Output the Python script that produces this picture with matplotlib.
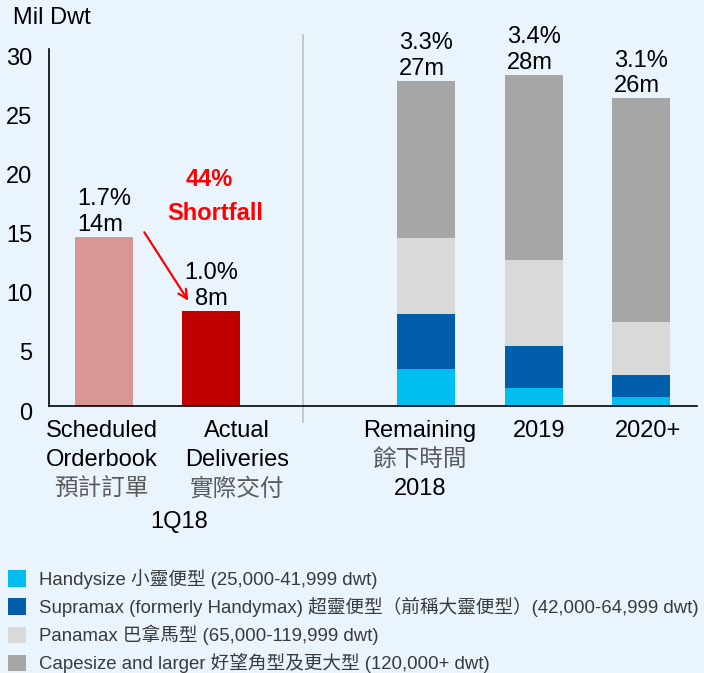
import matplotlib
matplotlib.use("Agg")
import matplotlib.pyplot as plt
from matplotlib.patches import Patch
from matplotlib.transforms import ScaledTranslation
import numpy as np

plt.rcParams['font.family'] = ['Liberation Sans', 'Noto Sans CJK TC', 'DejaVu Sans']

# ---- data (Mil Dwt) ----
left_en = ["Scheduled\nOrderbook", "Actual\nDeliveries"]
left_zh = ["預計訂單", "實際交付"]
left_values = [14.3, 8.05]
left_pct = ["1.7%", "1.0%"]
left_tot = ["14m", "8m"]

right_en = ["Remaining", "2019", "2020+"]
right_zh = ["餘下時間", "", ""]
right_en2 = ["2018", "", ""]
handysize = [3.13, 1.52, 0.76]
supramax = [4.65, 3.55, 1.89]
panamax = [6.42, 7.23, 4.45]
capesize = [13.3, 15.7, 18.9]
right_pct = ["3.3%", "3.4%", "3.1%"]
right_tot = ["27m", "28m", "26m"]

seg_names = [
    "Handysize 小靈便型 (25,000-41,999 dwt)",
    "Supramax (formerly Handymax) 超靈便型（前稱大靈便型）(42,000-64,999 dwt)",
    "Panamax 巴拿馬型 (65,000-119,999 dwt)",
    "Capesize and larger 好望角型及更大型 (120,000+ dwt)",
]
seg_colors = ['#00BEF0', '#005EAA', '#D9D9D9', '#A6A6A6']

bg = '#EAF4FD'
fs = 17
gray_txt = '#5A5A5A'

fig = plt.figure(figsize=(7.04, 6.73), dpi=100)
fig.patch.set_facecolor(bg)
ax = fig.add_axes([0.0696, 0.3967, 0.9205, 0.5305])
ax.set_facecolor(bg)

x_left = np.array([0, 1])
x_right = np.array([3, 4, 5])
w = 0.54

ax.bar(x_left, left_values, width=w, color=['#D99694', '#C00000'], zorder=2)

bottom = np.zeros(3)
for vals, col in zip([handysize, supramax, panamax, capesize], seg_colors):
    ax.bar(x_right, vals, width=w, bottom=bottom, color=col, zorder=2)
    bottom += np.array(vals)

ax.set_xlim(-0.51, 5.52)
ax.set_ylim(0, 30.17)
ax.set_yticks(range(0, 31, 5))
ax.set_xticks([])
ax.tick_params(axis='y', length=0, pad=12, labelsize=fs)
for lab in ax.get_yticklabels():
    lab.set_transform(lab.get_transform() + ScaledTranslation(0, -0.05, fig.dpi_scale_trans))
for s in ['top', 'right']:
    ax.spines[s].set_visible(False)
ax.spines['left'].set_linewidth(1.2)
ax.spines['bottom'].set_linewidth(1.2)

fig.text(13 / 704, 1 - 18 / 673, "Mil Dwt", fontsize=fs, va='center', ha='left')

# value labels above bars
tops = list(left_values) + list(bottom)
pcts = left_pct + right_pct
tots = left_tot + right_tot
xs = list(x_left) + list(x_right)
for i, (x, t, p, m) in enumerate(zip(xs, tops, pcts, tots)):
    ax.annotate(f"{p}\n{m}", xy=(x, t), xytext=(0, 1), textcoords='offset pixels',
                ha='center', va='bottom', fontsize=fs, linespacing=1.2,
                multialignment='center' if i == 1 else 'left')

# shortfall callout
ax.annotate('', xy=(0.80, 8.7), xytext=(0.363, 14.88),
            arrowprops=dict(arrowstyle='->', color='#FF0000', lw=1.6, mutation_scale=16))
ax.text(0.98, 19.1, "44%", color='#FF0000', fontsize=17, fontweight='bold', ha='center', va='center')
ax.text(1.04, 16.3, "Shortfall", color='#FF0000', fontsize=17, fontweight='bold', ha='center', va='center')

# separator
ax.plot([1.85, 1.85], [-0.045, 1.039], color='#BFBFBF', lw=1.2,
        transform=ax.get_xaxis_transform(), clip_on=False)

# category labels
def cat_label(x, lines):
    for k, (txt, col) in enumerate(lines):
        if not txt:
            continue
        ax.annotate(txt, xy=(x, 0), xycoords=('data', 'axes fraction'),
                    xytext=(0, -25 - 29 * k), textcoords='offset pixels',
                    ha='center', va='center', fontsize=fs, color=col)

left_dx = [-0.02, 0.24]
for x, dx, en, zh in zip(x_left, left_dx, left_en, left_zh):
    l1, l2 = en.split("\n")
    cat_label(x + dx, [(l1, 'black'), (l2, 'black'), (zh, gray_txt)])
ax.annotate("1Q18", xy=(0.70, 0), xycoords=('data', 'axes fraction'),
            xytext=(0, -116), textcoords='offset pixels', ha='center', va='center', fontsize=fs)

right_dx = [-0.06, 0.05, 0.06]
for x, dx, en, zh, en2 in zip(x_right, right_dx, right_en, right_zh, right_en2):
    cat_label(x + dx, [(en, 'black'), (zh, gray_txt), (en2, 'black')])

# legend
handles = [Patch(facecolor=c, edgecolor='none') for c in seg_colors]
leg = fig.legend(handles, seg_names, loc='upper left', bbox_to_anchor=(8 / 704, 1 - 569 / 673),
                 frameon=False, fontsize=13.45, handlelength=0.95, handleheight=1.0,
                 handletextpad=0.72, labelspacing=0.43, borderaxespad=0, borderpad=0)
for t in leg.get_texts():
    t.set_color('#3A3A3A')

fig.savefig("out.png", dpi=100, facecolor=bg)
